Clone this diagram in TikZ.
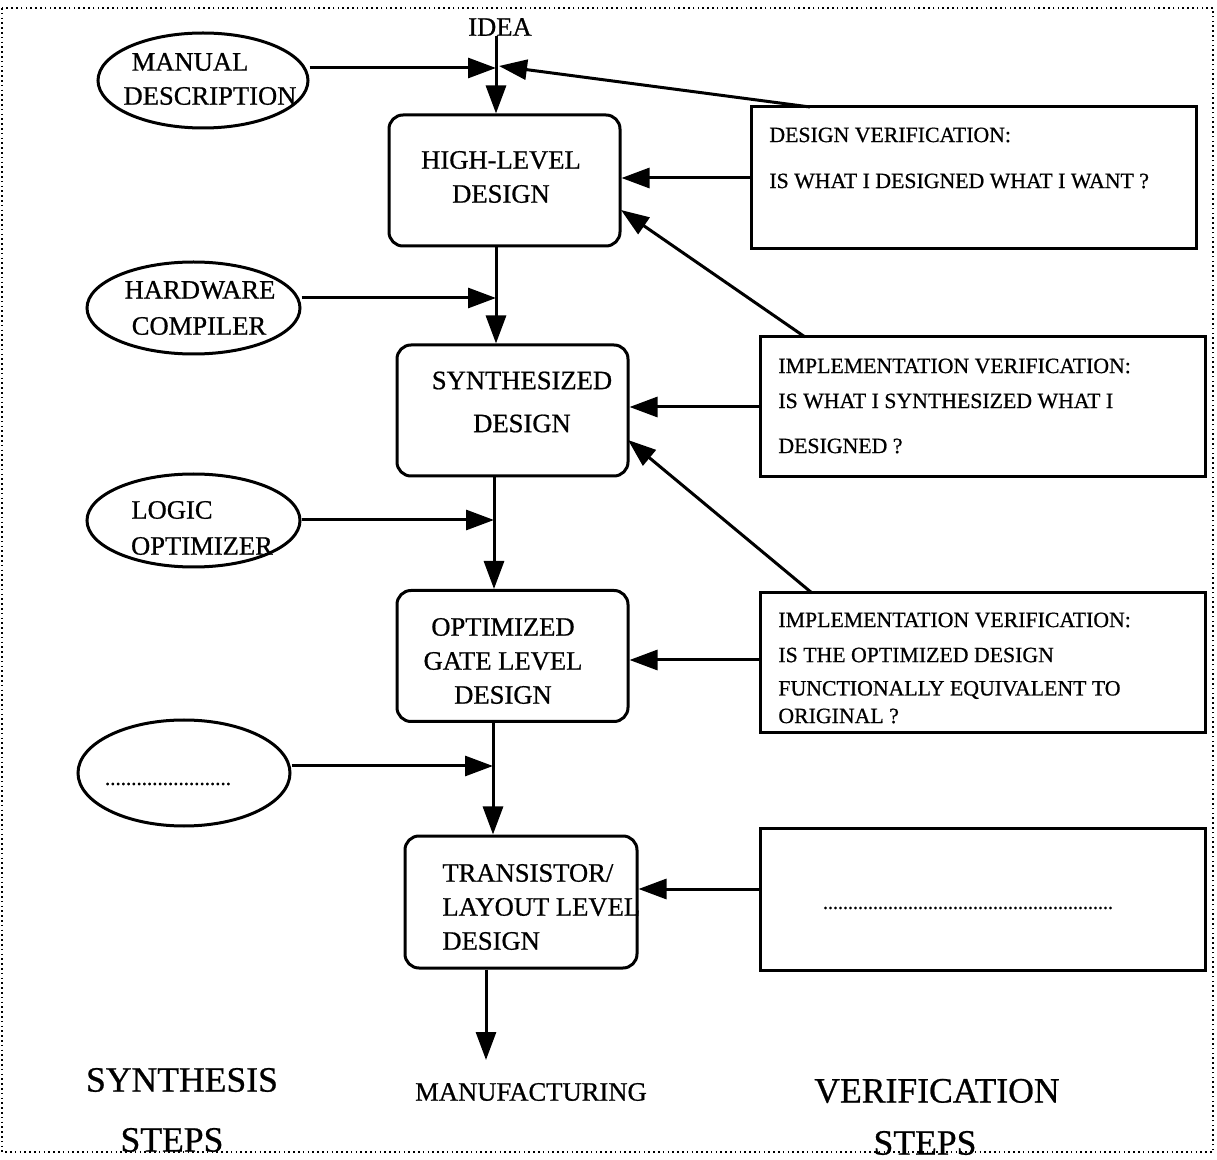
\documentclass[tikz,border=0pt]{standalone}
\usepackage{fontspec}
\setmainfont{Liberation Serif}[FakeBold=0.7]
\usetikzlibrary{arrows.meta,shapes.geometric}
\begin{document}
\begin{tikzpicture}[x=0.5pt,y=-0.5pt,
  stage/.style={draw,line width=1.5pt,rounded corners=7pt,minimum width=115.5pt,minimum height=65.5pt,inner sep=0pt},
  check/.style={draw,line width=1.5pt,minimum width=222.5pt,minimum height=70pt,inner sep=0pt},
  tool/.style={draw,ellipse,line width=1.5pt,inner sep=0pt},
  flow/.style={line width=1.5pt,-{Triangle[length=14pt,width=10pt]}},
  plain/.style={line width=1.5pt},
  txt/.style={inner sep=0pt,font=\fontsize{13.3}{17}\selectfont},
  note/.style={inner sep=0pt,anchor=west,font=\fontsize{10.9}{12}\selectfont},
  big/.style={inner sep=0pt,font=\fontsize{17.8}{20}\selectfont},
]
\useasboundingbox (0,0) rectangle (1217,1160);
% dotted frame
\draw[line width=0.8pt,dash pattern=on 0.8pt off 1.6pt] (2,8) rectangle (1213,1152);

% synthesis chain
\node[stage] (hl) at (504.5,180.5) {};
\node[stage] (syn) at (512.5,410.5) {};
\node[stage] (opt) at (512.5,656) {};
\node[stage,minimum width=116pt,minimum height=66pt] (tr) at (521,902) {};

\node[txt,align=center] (hlt) at (501,177) {HIGH-LEVEL\\DESIGN};
\node[txt,align=center] (synt) at (522,402) {SYNTHESIZED\\[4.5pt]DESIGN};
\node[txt,align=center] (optt) at (503,661) {OPTIMIZED\\GATE LEVEL\\DESIGN};
\node[txt,align=left,anchor=west] (trt) at (442,907) {TRANSISTOR/\\LAYOUT LEVEL\\DESIGN};

% tools
\node[tool,minimum width=105pt,minimum height=47.5pt] (md) at (203,80.5) {};
\node[tool,minimum width=106.5pt,minimum height=46pt] (hc) at (193.5,308) {};
\node[tool,minimum width=106.5pt,minimum height=46.5pt] (lo) at (193.5,520.5) {};
\node[tool,minimum width=106pt,minimum height=53pt] (ot) at (184,773) {};

\node[txt] (mda) at (190,62) {MANUAL};
\node[txt] (mdb) at (210,96) {DESCRIPTION};
\node[txt] (hca) at (200,290) {HARDWARE};
\node[txt] (hcb) at (199,326) {COMPILER};
\node[txt] (loa) at (172,510) {LOGIC};
\node[txt] (lob) at (202,546) {OPTIMIZER};
\node[inner sep=0pt,font=\fontsize{10.5}{12}\selectfont] (ott) at (168,784) {........................};

% verification boxes
\node[check,minimum height=71pt] (dv) at (974,178) {};
\node[check] (iv1) at (982.5,407) {};
\node[check] (iv2) at (982.5,663) {};
\node[check,minimum height=71pt] (ov) at (982.5,899) {};

\node[note] (dva) at (769,135) {DESIGN VERIFICATION:};
\node[note] (dvb) at (769,181) {IS WHAT I DESIGNED WHAT I WANT ?};
\node[note] (iv1a) at (778,366) {IMPLEMENTATION VERIFICATION:};
\node[note] (iv1b) at (778,401) {IS WHAT I SYNTHESIZED WHAT I};
\node[note] (iv1c) at (778,446) {DESIGNED ?};
\node[note] (iv2a) at (778,620) {IMPLEMENTATION VERIFICATION:};
\node[note] (iv2b) at (778,655) {IS THE OPTIMIZED DESIGN};
\node[note] (iv2c) at (778,690) {FUNCTIONALLY EQUIVALENT TO};
\node[note] (iv2d) at (778,716) {ORIGINAL ?};
\node[inner sep=0pt,font=\fontsize{10}{12}\selectfont] (ovt) at (968,908) {..........................................................};

% labels
\node[txt] (idea) at (500,27) {IDEA};
\node[txt] (mfg) at (531,1092) {MANUFACTURING};
\node[big] (ssa) at (182,1080) {SYNTHESIS};
\node[big] (ssb) at (172,1140) {STEPS};
\node[big] (vsa) at (937,1091) {VERIFICATION};
\node[big] (vsb) at (925,1143) {STEPS};

% junctions on the main flow
\coordinate (j0) at (496,68);
\coordinate (j1) at (496,298);
\coordinate (j2) at (494,520);
\coordinate (j3) at (493,766);
\coordinate (mfgtop) at (486,1060);

% main flow
\draw[plain] (idea.south -| j0) -- (j0);
\draw[flow] (j0) -- (hl.north -| j0);
\draw[plain] (hl.south -| j1) -- (j1);
\draw[flow] (j1) -- (syn.north -| j1);
\draw[plain] (syn.south -| j2) -- (j2);
\draw[flow] (j2) -- (opt.north -| j2);
\draw[plain] (opt.south -| j3) -- (j3);
\draw[flow] (j3) -- (tr.north -| j3);
\draw[flow] (tr.south -| mfgtop) -- (mfgtop);

% tool inputs
\draw[flow] (md.east |- j0) -- (j0);
\draw[flow] (hc.east |- j1) -- (j1);
\draw[flow] (lo.east |- j2) -- (j2);
\draw[flow] (ot.east |- j3) -- (j3);

% verification feedback
\coordinate (dvtop) at (810,107);
\coordinate (iv1top) at (805,337);
\coordinate (iv2top) at (812,593);
\draw[flow] (dvtop) -- (499,66);
\draw[flow] (dv.west) -- (hl.east |- dv.west);
\draw[flow] (iv1top) -- (621,210);
\draw[flow] (iv1.west) -- (syn.east |- iv1.west);
\draw[flow] (iv2top) -- (628,440);
\draw[flow] (iv2.west |- 0,660) -- (opt.east |- 0,660);
\draw[flow] (ov.west |- 0,889) -- (tr.east |- 0,889);
\end{tikzpicture}
\end{document}
